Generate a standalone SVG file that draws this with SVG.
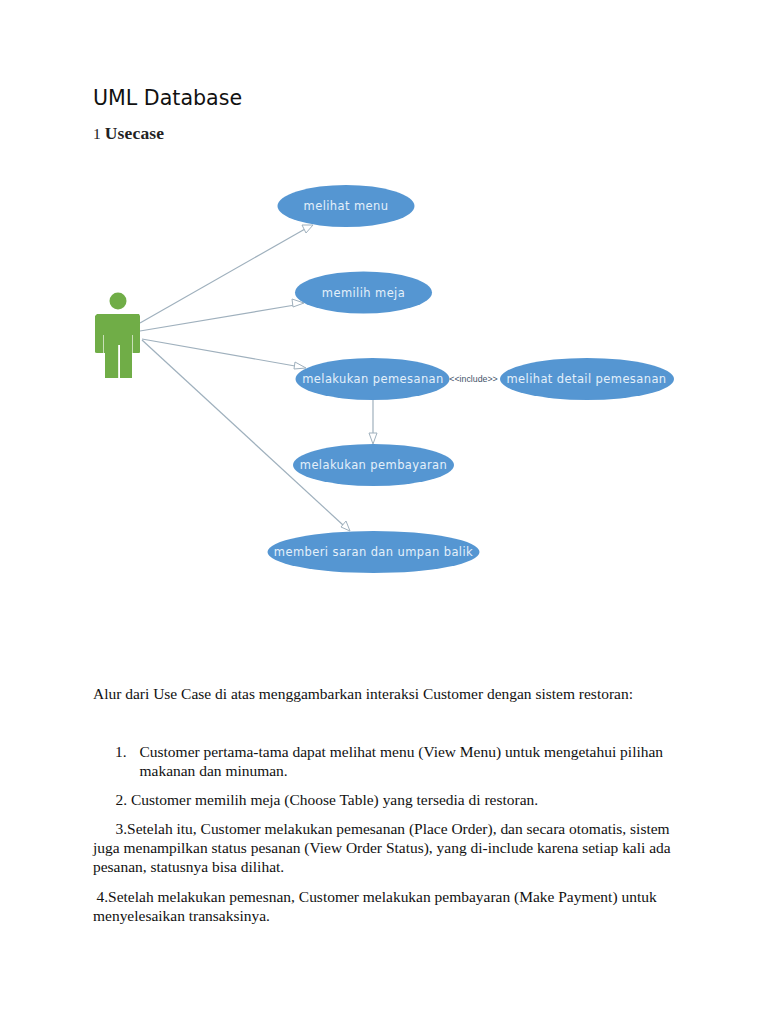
<svg xmlns="http://www.w3.org/2000/svg" width="768" height="1024" viewBox="0 0 768 1024">
<style>
.b{font-family:"Liberation Serif",serif;font-size:15.47px;fill:#111}
.e{fill:#5596d2}
.l{font-family:"DejaVu Sans",sans-serif;font-size:11.5px;letter-spacing:.4px;fill:#e4f0fa;text-anchor:middle}
.c{fill:none;stroke:#9fb0bd;stroke-width:1.200}
.a{fill:#fff;stroke:#9fb0bd;stroke-width:1}
</style>
<rect width="768" height="1024" fill="#fff"/>
<text x="93" y="105" font-family="'DejaVu Sans',sans-serif" font-size="20.6" fill="#111">UML Database</text>
<text x="93" y="139" font-family="'Liberation Serif',serif" font-size="15.5" fill="#222">1 <tspan font-weight="bold" font-size="17.5" letter-spacing=".2">Usecase</tspan></text>
<g id="connectors">
<path class="c" d="M140 323L305 229"/><polygon class="a" points="313,225 302,225 306,233"/>
<path class="c" d="M140 331L295 305"/><polygon class="a" points="304,303 292,299 293,307"/>
<path class="c" d="M142 339L295 366"/><polygon class="a" points="306,368 295,362 294,369"/>
<path class="c" d="M142 340L343 525"/><polygon class="a" points="350,531 346,521 341,527"/>
<path class="c" d="M373 400V433"/><polygon class="a" points="373,444 369,433 377,433"/>
</g>
<g id="actor" fill="#70ad47">
<circle cx="118" cy="301" r="8.500"/>
<path d="M97 314H139L140 316V352Q140 353 139 353H132V378H120V345H118V378H105V353H97Q95 353 95 352V316Z"/>
<path d="M103.500 335V353M132.500 335V353M118.500 345V378" stroke="#dfeed6" stroke-width="0.800" fill="none"/>
</g>
<g id="n1"><ellipse class="e" cx="346" cy="206" rx="68.500" ry="21"/><text class="l" x="346" y="210">melihat menu</text></g>
<g id="n2"><ellipse class="e" cx="363.500" cy="292.500" rx="68.500" ry="21"/><text class="l" x="363.500" y="296.500">memilih meja</text></g>
<g id="n3"><ellipse class="e" cx="372.500" cy="379" rx="77" ry="21"/><text class="l" x="373" y="383">melakukan pemesanan</text></g>
<g id="n4"><ellipse class="e" cx="587" cy="379" rx="87" ry="21"/><text class="l" x="586.500" y="383">melihat detail pemesanan</text></g>
<g id="n5"><ellipse class="e" cx="373.500" cy="465" rx="80.500" ry="21"/><text class="l" x="373.500" y="469">melakukan pembayaran</text></g>
<g id="n6"><ellipse class="e" cx="373.500" cy="552" rx="106" ry="21"/><text class="l" x="373.500" y="556">memberi saran dan umpan balik</text></g>
<text x="473.500" y="381.500" font-family="'Liberation Sans',sans-serif" font-size="8.800" fill="#44546a" text-anchor="middle">&lt;&lt;include&gt;&gt;</text>
<text class="b" x="93" y="699">Alur dari Use Case di atas menggambarkan interaksi Customer dengan sistem restoran:</text>
<text class="b" x="115" y="757">1.</text>
<text class="b" x="139.500" y="757">Customer pertama-tama dapat melihat menu (View Menu) untuk mengetahui pilihan</text>
<text class="b" x="139.500" y="776">makanan dan minuman.</text>
<text class="b" x="115.500" y="805">2. Customer memilih meja (Choose Table) yang tersedia di restoran.</text>
<text class="b" x="115.500" y="834">3.Setelah itu, Customer melakukan pemesanan (Place Order), dan secara otomatis, sistem</text>
<text class="b" x="93" y="853">juga menampilkan status pesanan (View Order Status), yang di-include karena setiap kali ada</text>
<text class="b" x="93" y="872">pesanan, statusnya bisa dilihat.</text>
<text class="b" x="96.500" y="902">4.Setelah melakukan pemesnan, Customer melakukan pembayaran (Make Payment) untuk</text>
<text class="b" x="93" y="921">menyelesaikan transaksinya.</text>
</svg>
